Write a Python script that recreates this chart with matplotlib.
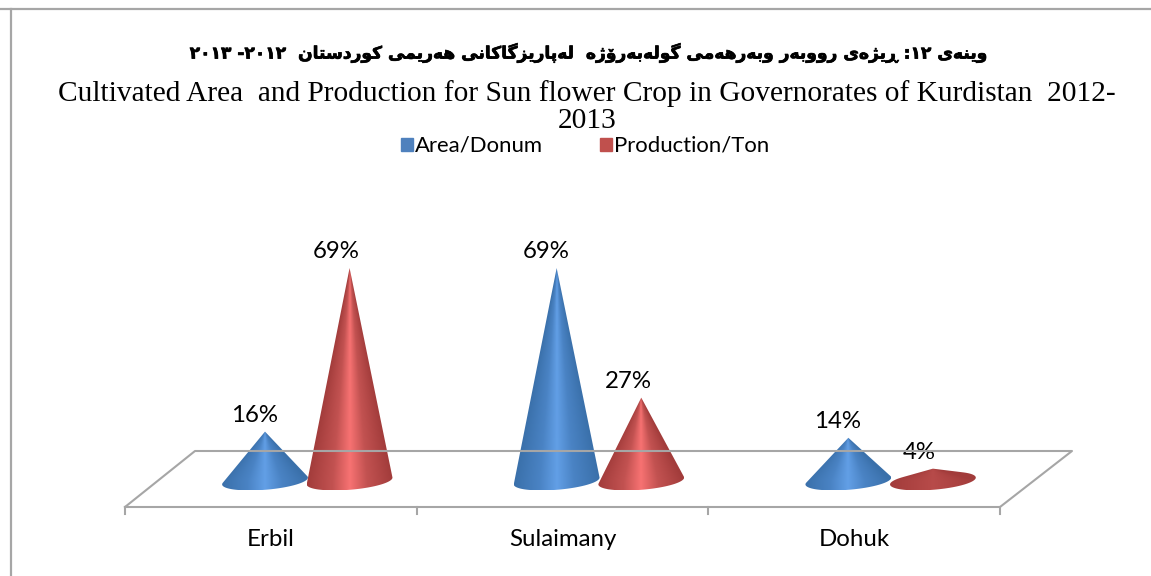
import re
import numpy as np
import matplotlib
matplotlib.use("Agg")
import matplotlib.pyplot as plt
import matplotlib.patheffects as pe
from matplotlib.colors import LinearSegmentedColormap
from matplotlib.lines import Line2D
from matplotlib.patches import Patch, Polygon

W, H = 1151, 576

categories = ["Erbil", "Sulaimany", "Dohuk"]
area = [16, 69, 14]
production = [69, 27, 4]
title_ku = "وێنەی ١٢: ڕێژەی رووبەر وبەرهەمی گولەبەرۆژە  لەپارێزگاکانی هەرێمی کوردستان  ٢٠١٢- ٢٠١٣"
title_en = "Cultivated Area  and Production for Sun flower Crop in Governorates of Kurdistan  2012-\n2013"

# isolated, final, initial, medial
forms = {
    "ب": "\uFE8F\uFE90\uFE91\uFE92", "پ": "\uFB56\uFB57\uFB58\uFB59",
    "ت": "\uFE95\uFE96\uFE97\uFE98", "س": "\uFEB1\uFEB2\uFEB3\uFEB4",
    "ک": "\uFB8E\uFB8F\uFB90\uFB91", "گ": "\uFB92\uFB93\uFB94\uFB95",
    "ل": "\uFEDD\uFEDE\uFEDF\uFEE0", "م": "\uFEE1\uFEE2\uFEE3\uFEE4",
    "ن": "\uFEE5\uFEE6\uFEE7\uFEE8", "ه": "\uFEE9\uFEEA\uFEEB\uFEEC",
    "ی": "\uFBFC\uFBFD\uFBFE\uFBFF", "ێ": "\uFBFC\uFBFD\uFBFE\uFBFF",
    "ا": "\uFE8D\uFE8E", "د": "\uFEA9\uFEAA", "ر": "\uFEAD\uFEAE",
    "ز": "\uFEAF\uFEB0", "ژ": "\uFB8A\uFB8B", "و": "\uFEED\uFEEE",
    "ۆ": "\uFBD9\uFBDA", "ە": "\uFEE9\uFEEA", "ڕ": "\u0695\u0695",
}


def shape(text):
    # matplotlib does no arabic shaping, so pick the joined forms and lay out right to left
    out = []
    for i, c in enumerate(text):
        if c not in forms:
            out.append(c)
            continue
        before = i > 0 and text[i - 1] in forms and len(forms[text[i - 1]]) == 4
        after = i + 1 < len(text) and text[i + 1] in forms and len(forms[c]) == 4
        idx = {(0, 0): 0, (1, 0): 1, (0, 1): 2, (1, 1): 3}[(int(before), int(after))]
        out.append(forms[c][idx])
    parts = re.findall(r"[\u0660-\u0669]+|[^\u0660-\u0669]", "".join(out))
    return "".join(reversed(parts))


def fx(px):
    return px / W


def fy(py):
    return 1 - py / H


def fig_line(fig, xs, ys, color="#a6a6a6", lw=1.5):
    fig.add_artist(Line2D([fx(x) for x in xs], [fy(y) for y in ys], color=color, lw=lw))


def cone(ax, x, value, dark, mid, light):
    half_w, half_h, tilt = 0.147, 2.85, 1.1
    t = np.linspace(0, 2 * np.pi, 241)
    ex = x + half_w * np.cos(t)
    ey = half_h * np.sin(t) + tilt * np.cos(t)
    slope = (ex - x) / (value - ey)
    a, b = int(np.argmin(slope)), int(np.argmax(slope))
    # lower arc goes from left tangent point round to the right one
    if a < b:
        arc = np.arange(a, b + 1)
    else:
        arc = np.r_[a:len(t), 0:b + 1]
    pts = [(x, value)] + list(zip(ex[arc], ey[arc]))
    poly = Polygon(pts, closed=True, fc="none", ec="none", transform=ax.transData)
    ax.add_patch(poly)
    cmap = LinearSegmentedColormap.from_list("c", [(0, dark), (0.6, mid), (1, light)])
    # shading follows the cone, so it narrows towards the tip
    xs = np.linspace(x - half_w, x + half_w, 240)
    ys = np.linspace(ey.min(), value, 240)
    gx, gy = np.meshgrid(xs, ys)
    width = half_w * np.clip((value - gy) / value, 0.02, 1)
    u = np.clip(np.abs(gx - x) / width, 0, 1)
    strength = max(min(value / 14, 1), 0.4)
    im = ax.imshow((1 - u) * strength, cmap=cmap, vmin=0, vmax=1, aspect="auto", origin="lower",
                   extent=[x - half_w, x + half_w, ey.min(), value], zorder=3)
    im.set_clip_path(poly)


fig = plt.figure(figsize=(W / 100, H / 100), dpi=100, facecolor="white")

# chart frame, only top and left show in the source
fig_line(fig, [0, W], [9, 9], lw=1.6)
fig_line(fig, [10.5, 10.5], [9, H], lw=1.6)

px_per_unit = (481 - 268) / 69
y_floor = -5
ax = fig.add_axes([fx(125), fy(481 - y_floor * px_per_unit), fx(1000) - fx(125),
                   (69 - y_floor) * px_per_unit / H])
ax.patch.set_alpha(0)
ax.axis("off")

# floor of the 3d chart
fig_line(fig, [125, 195, 1072, 1000, 125], [507, 451, 451, 507, 507])
for px in [125, 416.7, 708.3, 1000]:
    fig_line(fig, [px, px], [507, 514])

for i, name in enumerate(categories):
    cone(ax, i - 0.02, area[i], "#3a70aa", "#4a83c4", "#629fe6")
    cone(ax, i + 0.27, production[i], "#a23c3b", "#c25251", "#f77272")
    ax.annotate(f"{area[i]}%", (i - 0.02, area[i]), xytext=(-7.5, 11.8),
                textcoords="offset points", ha="center", va="center",
                fontsize=17.3, family="Lato", zorder=5)
    ax.annotate(f"{production[i]}%", (i + 0.27, production[i]), xytext=(-9.5, 11.8),
                textcoords="offset points", ha="center", va="center",
                fontsize=17.3, family="Lato", zorder=5)
    fig.text(fx(125 + (i + 0.5) * 291.7), fy(540), name, ha="center", va="center",
             fontsize=17.3, family="Lato")

ax.set_xlim(-0.5, 2.5)
ax.set_ylim(y_floor, 69)

fig.text(fx(590), fy(53), shape(title_ku), ha="center", va="center", fontsize=12.3,
         fontweight="bold", family="DejaVu Sans",
         path_effects=[pe.withStroke(linewidth=0.5, foreground="black")])
fig.text(fx(587), fy(107), title_en, ha="center", va="center", fontsize=21.2,
         family="Liberation Serif", linespacing=1.09)

handles = [Patch(color="#4f81bd", label="Area/Donum"), Patch(color="#c0504d", label="Production/Ton")]
fig.legend(handles=handles, loc="center", bbox_to_anchor=(fx(585), fy(146)), ncol=2, frameon=False,
           prop={"family": "Lato", "size": 15.9}, handlelength=0.55, handleheight=0.55,
           handletextpad=0.1, columnspacing=2.55)

fig.savefig("out.png", dpi=100, facecolor="white")
